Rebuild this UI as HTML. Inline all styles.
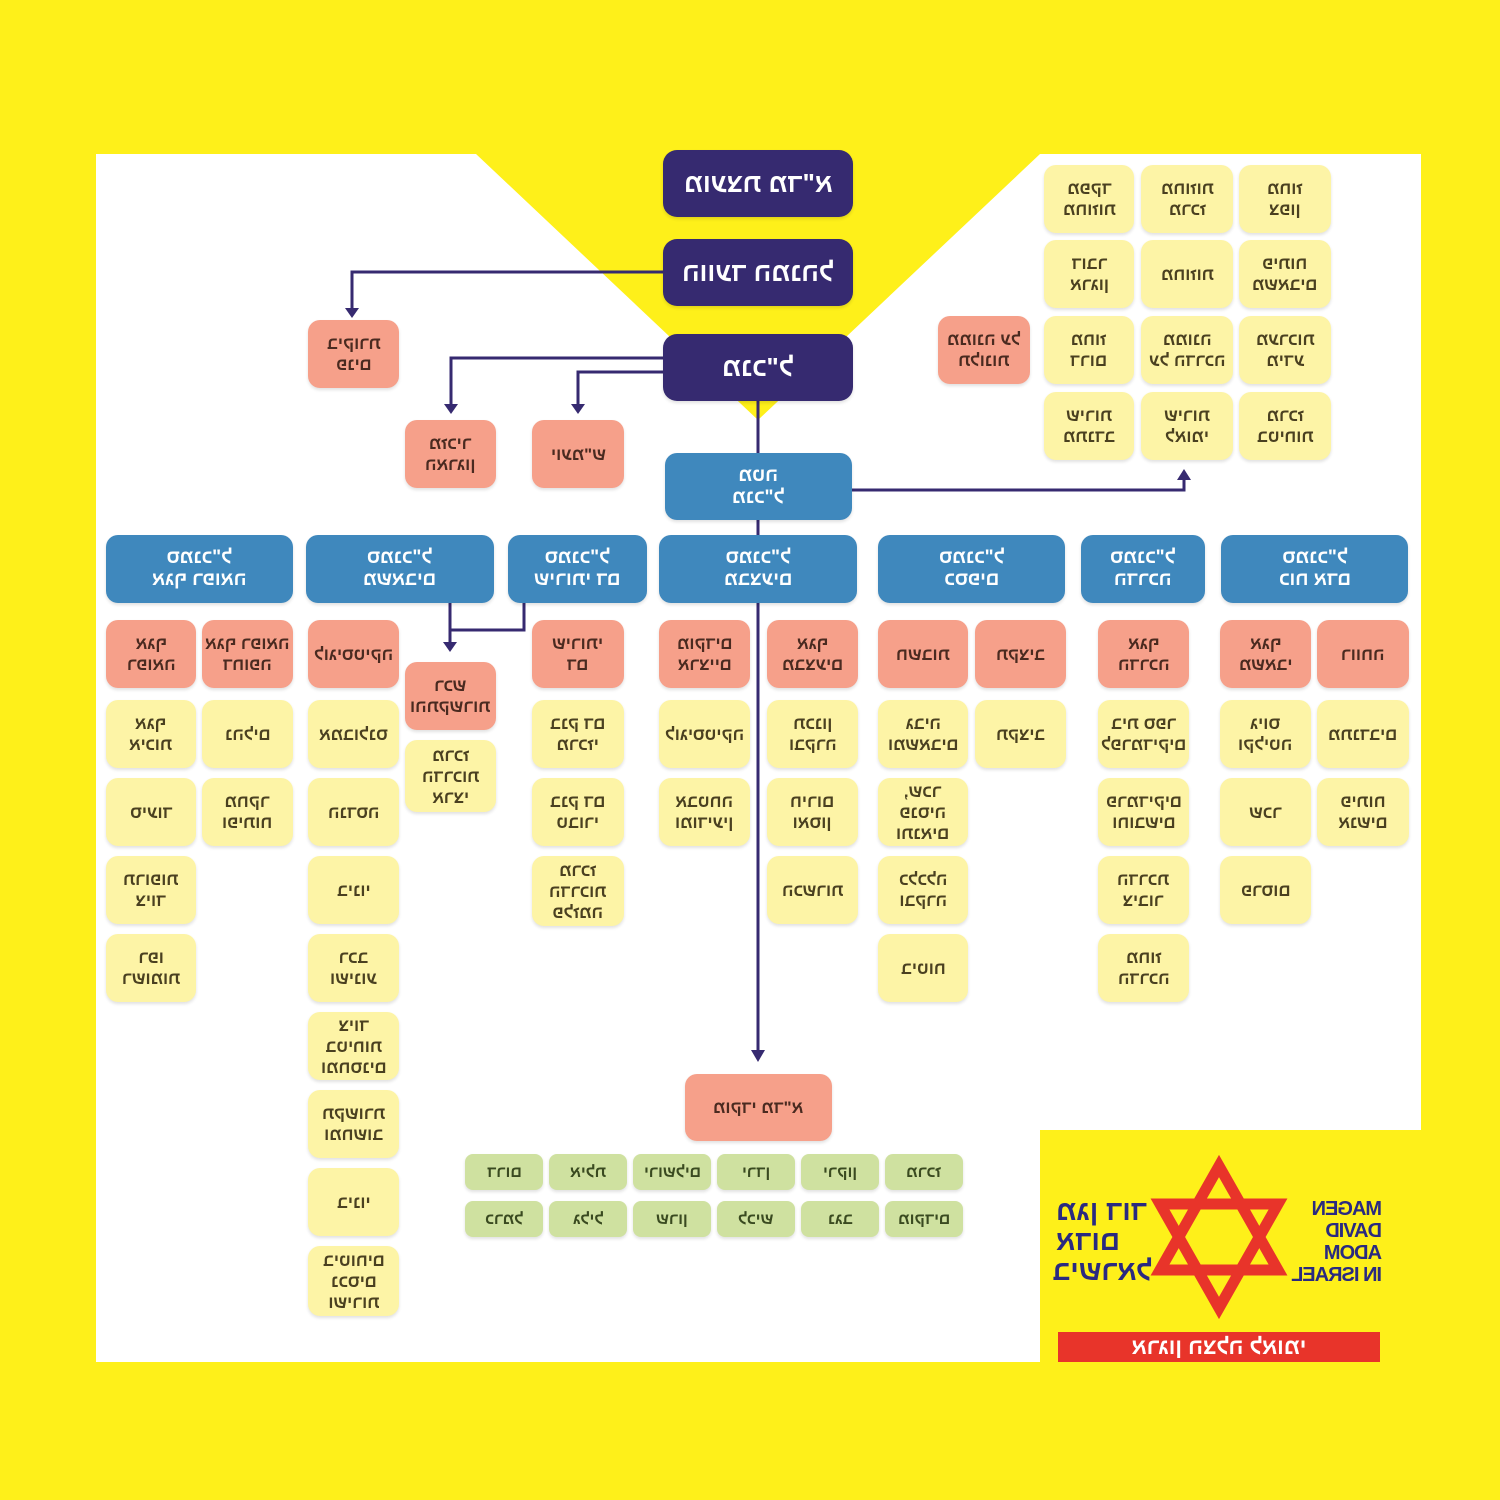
<!DOCTYPE html>
<html><head><meta charset="utf-8">
<style>
*{margin:0;padding:0;box-sizing:border-box}
body{width:1500px;height:1500px;background:#fef01a;position:relative;overflow:hidden;font-family:"Liberation Sans","Noto Sans CJK SC",sans-serif}
.b{position:absolute;border-radius:12px;display:flex;align-items:center;justify-content:center;text-align:center;font-size:17px;line-height:21px;font-weight:bold;box-shadow:0 2px 3px rgba(0,0,0,.12)}
.b span{display:inline-block;transform:scaleX(-1)}
.p{background:#362a70;color:#fff;font-size:26px;border-radius:14px}
.u{background:#3f88bd;color:#fff;font-size:19px;line-height:22px}
.s{background:#f6a08a;color:#4a2a20}
.y{background:#fdf4a6;color:#4a4020}
.g{background:#cfe1a0;color:#3a4a20;border-radius:8px;font-size:16px}
</style></head><body>
<svg width="1500" height="1500" style="position:absolute;left:0;top:0">
<polygon points="96,154 476,154 758,420 1040,154 1421,154 1421,1130 1040,1130 1040,1362 96,1362" fill="#fff"/>
<g stroke="#362a70" stroke-width="3" fill="none">
<polyline points="663,272 352,272 352,312"/>
<polyline points="663,358 451,358 451,408"/>
<polyline points="663,372 578,372 578,408"/>
<polyline points="758,401 758,1054"/>
<polyline points="852,490 1184,490 1184,478"/>
<polyline points="450,603 450,646"/>
<polyline points="524,603 524,630 450,630"/>
</g>
<g fill="#362a70">
<polygon points="345,308 359,308 352,318"/>
<polygon points="444,404 458,404 451,414"/>
<polygon points="571,404 585,404 578,414"/>
<polygon points="751,1050 765,1050 758,1062"/>
<polygon points="1177,480 1191,480 1184,469"/>
<polygon points="443,642 457,642 450,652"/>
</g>
<g stroke="#e8342a" stroke-width="11" fill="none">
<polygon points="1219,1166 1278,1270 1160,1270"/>
<polygon points="1219,1308 1278,1204 1160,1204"/>
</g>
<rect x="1058" y="1332" width="322" height="30" fill="#e8342a"/>
</svg>
<div style="position:absolute;left:1056px;top:1196px;font:bold 28px/30px 'Liberation Sans',sans-serif;color:#2a2a80;transform:scaleX(-1);width:96px;text-align:right;white-space:nowrap">מגן דוד<br>אדום<br>בישראל</div>
<div style="position:absolute;left:1290px;top:1198px;font:bold 20px/22px 'Liberation Sans',sans-serif;letter-spacing:-1px;color:#2a2a80;transform:scaleX(-1);width:92px;text-align:left;white-space:nowrap">MAGEN<br>DAVID<br>ADOM<br>IN ISRAEL</div>
<div style="position:absolute;left:1058px;top:1334px;width:322px;text-align:center;font:bold 22px/26px 'Liberation Sans',sans-serif;color:#fff;transform:scaleX(-1)">ארגון הצלה לאומי</div>

<div class="b p" style="left:663px;top:150px;width:190px;height:67px"><span>מועצת מד"א</span></div>
<div class="b p" style="left:663px;top:239px;width:190px;height:67px"><span>הוועד המנהל</span></div>
<div class="b p" style="left:663px;top:334px;width:190px;height:67px"><span>מנכ"ל</span></div>
<div class="b u" style="left:665px;top:453px;width:187px;height:67px"><span>מטה<br>מנכ"ל</span></div>

<div class="b s" style="left:308px;top:320px;width:91px;height:68px"><span>ביקורת<br>פנים</span></div>
<div class="b s" style="left:405px;top:420px;width:91px;height:68px"><span>מזכיר<br>הארגון</span></div>
<div class="b s" style="left:532px;top:420px;width:92px;height:68px"><span>יועמ"ש</span></div>
<div class="b s" style="left:938px;top:316px;width:92px;height:68px"><span>ממונה על<br>תלונות</span></div>

<div class="b y" style="left:1044px;top:165px;width:90px;height:68px"><span>מפקד<br>מחוזות</span></div>
<div class="b y" style="left:1141px;top:165px;width:92px;height:68px"><span>מחוזות<br>מרכז</span></div>
<div class="b y" style="left:1239px;top:165px;width:92px;height:68px"><span>מחוז<br>צפון</span></div>
<div class="b y" style="left:1044px;top:240px;width:90px;height:68px"><span>דובר<br>ארגון</span></div>
<div class="b y" style="left:1141px;top:240px;width:92px;height:68px"><span>מחוזות</span></div>
<div class="b y" style="left:1239px;top:240px;width:92px;height:68px"><span>פיתוח<br>משאבים</span></div>
<div class="b y" style="left:1044px;top:316px;width:90px;height:68px"><span>מחוז<br>דרום</span></div>
<div class="b y" style="left:1141px;top:316px;width:92px;height:68px"><span>ממונה<br>על הדרכה</span></div>
<div class="b y" style="left:1239px;top:316px;width:92px;height:68px"><span>מערכות<br>מידע</span></div>
<div class="b y" style="left:1044px;top:392px;width:90px;height:68px"><span>שירות<br>מתנדב</span></div>
<div class="b y" style="left:1141px;top:392px;width:92px;height:68px"><span>שירות<br>לאומי</span></div>
<div class="b y" style="left:1239px;top:392px;width:92px;height:68px"><span>מרכז<br>בטיחות</span></div>

<div class="b u" style="left:106px;top:535px;width:187px;height:68px"><span>סמנכ"ל<br>אגף רפואה</span></div>
<div class="b u" style="left:306px;top:535px;width:188px;height:68px"><span>סמנכ"ל<br>משאבים</span></div>
<div class="b u" style="left:508px;top:535px;width:139px;height:68px"><span>סמנכ"ל<br>שירותי דם</span></div>
<div class="b u" style="left:659px;top:535px;width:198px;height:68px"><span>סמנכ"ל<br>מבצעים</span></div>
<div class="b u" style="left:878px;top:535px;width:187px;height:68px"><span>סמנכ"ל<br>כספים</span></div>
<div class="b u" style="left:1081px;top:535px;width:124px;height:68px"><span>סמנכ"ל<br>הדרכה</span></div>
<div class="b u" style="left:1221px;top:535px;width:187px;height:68px"><span>סמנכ"ל<br>כוח אדם</span></div>

<div class="b s" style="left:106px;top:620px;width:90px;height:68px"><span>אגף<br>רפואה</span></div>
<div class="b s" style="left:202px;top:620px;width:91px;height:68px"><span>אגף רפואה<br>דחופה</span></div>
<div class="b y" style="left:106px;top:700px;width:90px;height:68px"><span>אגף<br>איכות</span></div>
<div class="b y" style="left:202px;top:700px;width:91px;height:68px"><span>נהלים</span></div>
<div class="b y" style="left:106px;top:778px;width:90px;height:68px"><span>סיעוד</span></div>
<div class="b y" style="left:202px;top:778px;width:91px;height:68px"><span>מחקר<br>ופיתוח</span></div>
<div class="b y" style="left:106px;top:856px;width:90px;height:68px"><span>תרופות<br>ציוד</span></div>
<div class="b y" style="left:106px;top:934px;width:90px;height:68px"><span>רפו<br>רשומות</span></div>
<div class="b s" style="left:308px;top:620px;width:91px;height:68px"><span>לוגיסטיקה</span></div>
<div class="b s" style="left:405px;top:662px;width:91px;height:68px"><span>רכש<br>והתקשרות</span></div>
<div class="b y" style="left:405px;top:740px;width:91px;height:72px"><span>מרכז<br>הדרכות<br>ארצי</span></div>
<div class="b y" style="left:308px;top:700px;width:91px;height:68px"><span>אמבולנס</span></div>
<div class="b y" style="left:308px;top:778px;width:91px;height:68px"><span>הנדסה</span></div>
<div class="b y" style="left:308px;top:856px;width:91px;height:68px"><span>בינוי</span></div>
<div class="b y" style="left:308px;top:934px;width:91px;height:68px"><span>רכב<br>ושינוע</span></div>
<div class="b y" style="left:308px;top:1012px;width:91px;height:68px"><span>ציוד<br>בטיחות<br>ומחסנים</span></div>
<div class="b y" style="left:308px;top:1090px;width:91px;height:68px"><span>תקשורת<br>ומחשוב</span></div>
<div class="b y" style="left:308px;top:1168px;width:91px;height:68px"><span>בינוי</span></div>
<div class="b y" style="left:308px;top:1246px;width:91px;height:70px"><span>ביטוחים<br>נכסים<br>ושירות</span></div>
<div class="b s" style="left:532px;top:620px;width:92px;height:68px"><span>שירותי<br>דם</span></div>
<div class="b y" style="left:532px;top:700px;width:92px;height:68px"><span>בנק דם<br>מרכזי</span></div>
<div class="b y" style="left:532px;top:778px;width:92px;height:68px"><span>בנק דם<br>טבורי</span></div>
<div class="b y" style="left:532px;top:856px;width:92px;height:70px"><span>מרכז<br>הדרכות<br>פלזמה</span></div>
<div class="b s" style="left:659px;top:620px;width:91px;height:68px"><span>מוקדים<br>ארציים</span></div>
<div class="b s" style="left:767px;top:620px;width:91px;height:68px"><span>אגף<br>מבצעים</span></div>
<div class="b y" style="left:659px;top:700px;width:91px;height:68px"><span>לוגיסטיקה</span></div>
<div class="b y" style="left:767px;top:700px;width:91px;height:68px"><span>תכנון<br>ובקרה</span></div>
<div class="b y" style="left:659px;top:778px;width:91px;height:68px"><span>אבטחה<br>ומודיעין</span></div>
<div class="b y" style="left:767px;top:778px;width:91px;height:68px"><span>חירום<br>ואסון</span></div>
<div class="b y" style="left:767px;top:856px;width:91px;height:68px"><span>הכשרות</span></div>
<div class="b s" style="left:878px;top:620px;width:90px;height:68px"><span>חשבות</span></div>
<div class="b s" style="left:975px;top:620px;width:91px;height:68px"><span>תקציב</span></div>
<div class="b y" style="left:878px;top:700px;width:90px;height:68px"><span>גביה<br>ומשאבים</span></div>
<div class="b y" style="left:975px;top:700px;width:91px;height:68px"><span>תקציב</span></div>
<div class="b y" style="left:878px;top:778px;width:90px;height:68px"><span>שכר,<br>פנסיה<br>ותנאים</span></div>
<div class="b y" style="left:878px;top:856px;width:90px;height:68px"><span>כלכלה<br>ובקרה</span></div>
<div class="b y" style="left:878px;top:934px;width:90px;height:68px"><span>ביטוח</span></div>
<div class="b s" style="left:1098px;top:620px;width:91px;height:68px"><span>אגף<br>הדרכה</span></div>
<div class="b y" style="left:1098px;top:700px;width:91px;height:68px"><span>בית ספר<br>לפרמדיקים</span></div>
<div class="b y" style="left:1098px;top:778px;width:91px;height:68px"><span>פרמדיקים<br>וחובשים</span></div>
<div class="b y" style="left:1098px;top:856px;width:91px;height:68px"><span>הדרכת<br>ציבור</span></div>
<div class="b y" style="left:1098px;top:934px;width:91px;height:68px"><span>מחוז<br>הדרכה</span></div>
<div class="b s" style="left:1220px;top:620px;width:91px;height:68px"><span>אגף<br>משאבי</span></div>
<div class="b s" style="left:1317px;top:620px;width:92px;height:68px"><span>רווחה</span></div>
<div class="b y" style="left:1220px;top:700px;width:91px;height:68px"><span>גיוס<br>וקליטה</span></div>
<div class="b y" style="left:1317px;top:700px;width:92px;height:68px"><span>מתנדבים</span></div>
<div class="b y" style="left:1220px;top:778px;width:91px;height:68px"><span>שכר</span></div>
<div class="b y" style="left:1317px;top:778px;width:92px;height:68px"><span>פיתוח אנשים</span></div>
<div class="b y" style="left:1220px;top:856px;width:91px;height:68px"><span>פרסום</span></div>

<div class="b s" style="left:685px;top:1074px;width:147px;height:67px"><span>מוקדי מד"א</span></div>
<div class="b g" style="left:465px;top:1154px;width:78px;height:36px"><span>דרום</span></div>
<div class="b g" style="left:549px;top:1154px;width:78px;height:36px"><span>אילת</span></div>
<div class="b g" style="left:633px;top:1154px;width:78px;height:36px"><span>ירושלים</span></div>
<div class="b g" style="left:717px;top:1154px;width:78px;height:36px"><span>ירדן</span></div>
<div class="b g" style="left:801px;top:1154px;width:78px;height:36px"><span>ירקון</span></div>
<div class="b g" style="left:885px;top:1154px;width:78px;height:36px"><span>מרכז</span></div>
<div class="b g" style="left:465px;top:1201px;width:78px;height:36px"><span>כרמל</span></div>
<div class="b g" style="left:549px;top:1201px;width:78px;height:36px"><span>גליל</span></div>
<div class="b g" style="left:633px;top:1201px;width:78px;height:36px"><span>שרון</span></div>
<div class="b g" style="left:717px;top:1201px;width:78px;height:36px"><span>לכיש</span></div>
<div class="b g" style="left:801px;top:1201px;width:78px;height:36px"><span>נגב</span></div>
<div class="b g" style="left:885px;top:1201px;width:78px;height:36px"><span>מוקדים</span></div>
</body></html>
